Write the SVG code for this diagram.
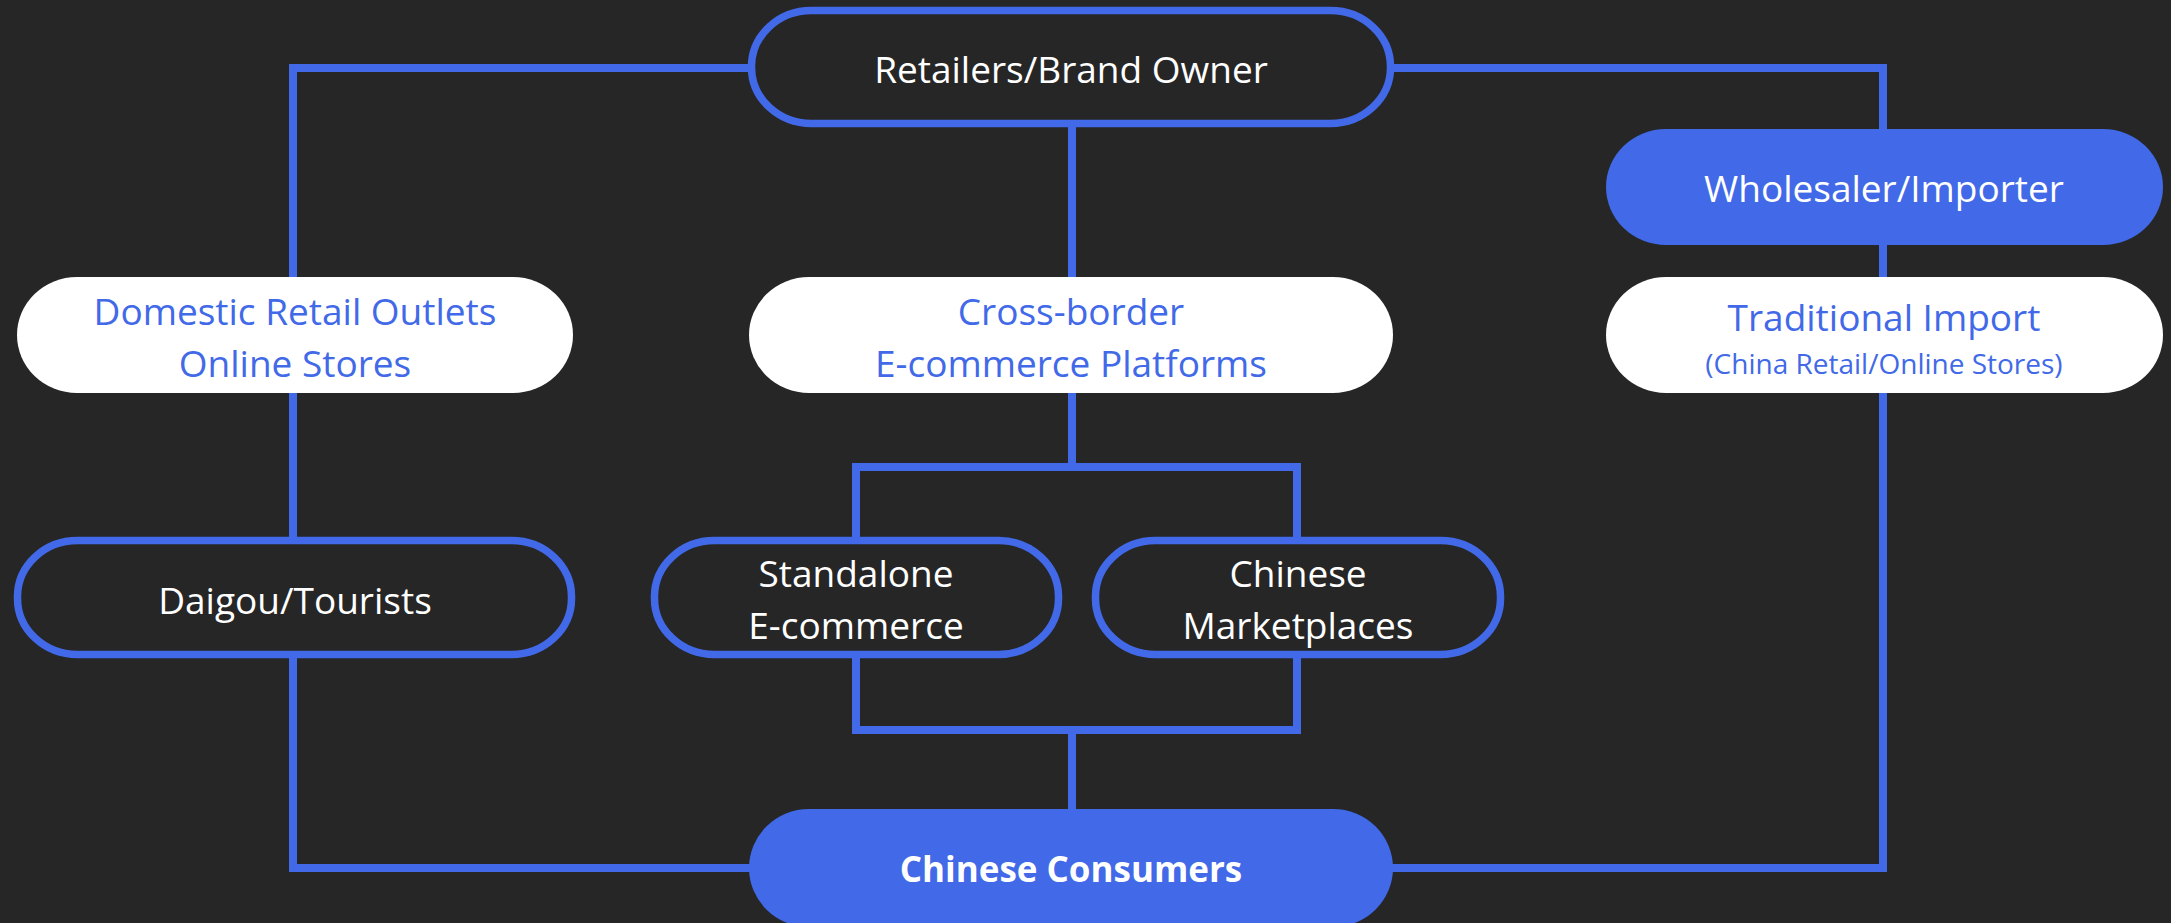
<svg xmlns="http://www.w3.org/2000/svg" width="2171" height="923" viewBox="0 0 2171 923">
<style>
.bg{fill:#262626}
.line{fill:none;stroke:#4169E8;stroke-width:8;stroke-linejoin:miter}
.outl{fill:#262626;stroke:#4169E8;stroke-width:7.5}
.filled{fill:#4169E8}
.white{fill:#FFFFFF}
text{font-family:"Open Sans","Noto Sans","Liberation Sans",sans-serif;font-size:37px;text-anchor:middle;dominant-baseline:central}
.tw{fill:#FFFFFF}
.tb{fill:#4169E8}
.small{font-size:28px}
.bold{font-weight:bold;font-size:35px}
</style>
<rect class="bg" x="0" y="0" width="2171" height="923"/>
<g id="connectors">
<polyline class="line" points="750,68 293,68 293,868 750,868"/>
<polyline class="line" points="1392,68 1883,68 1883,868 1392,868"/>
<line class="line" x1="1072" y1="125" x2="1072" y2="280"/>
<line class="line" x1="1072" y1="390" x2="1072" y2="467"/>
<polyline class="line" points="856,540 856,467 1297,467 1297,540"/>
<polyline class="line" points="856,655 856,730 1297,730 1297,655"/>
<line class="line" x1="1072" y1="730" x2="1072" y2="812"/>
</g>
<g id="retailers">
<rect class="outl" x="751.5" y="10.5" width="639" height="113" rx="60" ry="56"/>
<text class="tw" x="1071" y="68">Retailers/Brand Owner</text>
</g>
<g id="wholesaler">
<rect class="filled" x="1606" y="129" width="557" height="116" rx="60" ry="58"/>
<text class="tw" x="1884" y="187">Wholesaler/Importer</text>
</g>
<g id="traditional">
<rect class="white" x="1606" y="277" width="557" height="116" rx="60" ry="58"/>
<text class="tb" x="1884" y="316">Traditional Import</text>
<text class="tb small" x="1884" y="363">(China Retail/Online Stores)</text>
</g>
<g id="domestic">
<rect class="white" x="17" y="277" width="556" height="116" rx="60" ry="58"/>
<text class="tb" x="295" y="310">Domestic Retail Outlets</text>
<text class="tb" x="295" y="362">Online Stores</text>
</g>
<g id="crossborder">
<rect class="white" x="749" y="277" width="644" height="116" rx="60" ry="58"/>
<text class="tb" x="1071" y="310">Cross-border</text>
<text class="tb" x="1071" y="362">E-commerce Platforms</text>
</g>
<g id="daigou">
<rect class="outl" x="17.5" y="540.5" width="554" height="114" rx="60" ry="56"/>
<text class="tw" x="295" y="599">Daigou/Tourists</text>
</g>
<g id="standalone">
<rect class="outl" x="654.5" y="540.5" width="404" height="114" rx="60" ry="56"/>
<text class="tw" x="856" y="572">Standalone</text>
<text class="tw" x="856" y="624">E-commerce</text>
</g>
<g id="marketplaces">
<rect class="outl" x="1095.5" y="540.5" width="405" height="114" rx="60" ry="56"/>
<text class="tw" x="1298" y="572">Chinese</text>
<text class="tw" x="1298" y="624">Marketplaces</text>
</g>
<g id="consumers">
<rect class="filled" x="749" y="809" width="644" height="118" rx="60" ry="59"/>
<text class="tw bold" x="1071" y="868">Chinese Consumers</text>
</g>
</svg>
